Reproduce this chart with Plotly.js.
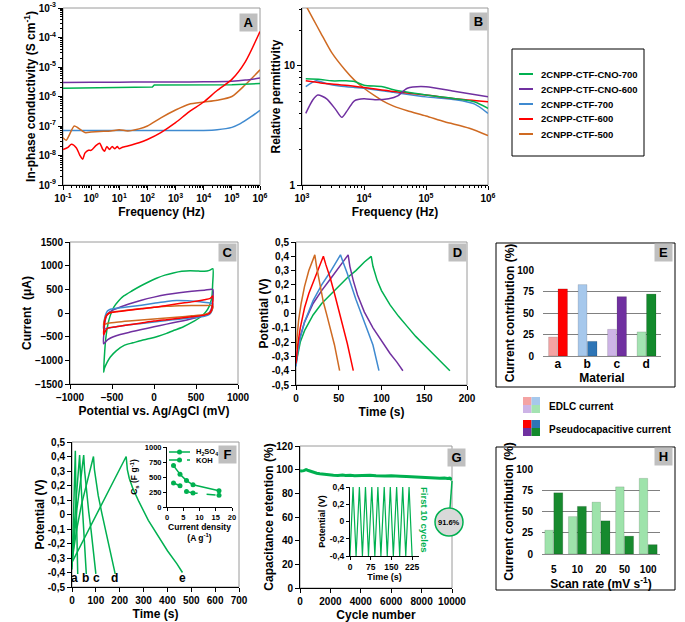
<!DOCTYPE html>
<html><head><meta charset="utf-8">
<script src="https://cdn.plot.ly/plotly-3.0.1.min.js"></script>
<style>html,body{margin:0;padding:0;background:#fff}#chart{width:685px;height:622px}</style>
</head><body><div id="chart"></div>
<script>
// ---------------- DATA ----------------
const seriesNames = ['2CNPP-CTF-CNO-700','2CNPP-CTF-CNO-600','2CNPP-CTF-700','2CNPP-CTF-600','2CNPP-CTF-500'];

// Panel A : in-phase conductivity vs frequency
const aF_green = [0.1, 1, 10, 100, 150, 175, 1000, 1e4, 1e5, 1e6];
const aS_green = [1.9e-6, 1.95e-6, 2.0e-6, 2.05e-6, 2.1e-6, 2.45e-6, 2.45e-6, 2.45e-6, 2.5e-6, 2.75e-6];
const aF_purple = [0.1, 1, 10, 100, 1e3, 1e4, 1e5, 3e5, 1e6];
const aS_purple = [3.0e-6, 3.05e-6, 3.05e-6, 3.1e-6, 3.1e-6, 3.15e-6, 3.3e-6, 3.6e-6, 4.2e-6];
const aF_blue = [0.1, 1, 10, 100, 1e3, 1e4, 3e4, 1e5, 2e5, 5e5, 1e6];
const aS_blue = [7e-8, 7e-8, 7.1e-8, 7e-8, 7e-8, 7.1e-8, 7.5e-8, 9e-8, 1.2e-7, 2.1e-7, 3.4e-7];
const aF_red = [0.1, 0.15, 0.2, 0.3, 0.4, 0.5, 0.6, 0.8, 1, 1.5, 2, 2.6, 3, 3.6, 4.5, 5.5, 7, 8.5, 10, 13, 20, 50, 100, 300, 1e3, 3e3, 1e4, 3e4, 1e5, 3e5, 1e6];
const aS_red = [1.6e-8, 1.9e-8, 2.4e-8, 1.8e-8, 1.0e-8, 7.5e-9, 1.2e-8, 1.5e-8, 1.5e-8, 2.2e-8, 2.6e-8, 1.6e-8, 1.4e-8, 2.0e-8, 1.6e-8, 2.0e-8, 1.7e-8, 2.0e-8, 1.7e-8, 1.9e-8, 2.1e-8, 2.7e-8, 3.5e-8, 6e-8, 1.3e-7, 3e-7, 6.5e-7, 1.6e-6, 3.8e-6, 1.5e-5, 1.6e-4];
const aF_orange = [0.1, 0.13, 0.25, 0.35, 0.6, 1, 2, 5, 10, 20, 50, 100, 300, 1e3, 3e3, 1e4, 3e4, 1e5, 3e5, 1e6];
const aS_orange = [4e-8, 3.3e-8, 1.0e-7, 8.5e-8, 6e-8, 6.2e-8, 6.5e-8, 6.8e-8, 7.5e-8, 6.8e-8, 8e-8, 1.0e-7, 1.9e-7, 3.5e-7, 5.5e-7, 6.5e-7, 7.5e-7, 1.0e-6, 2.5e-6, 8e-6];
const aFreqTicks = [0.1, 1, 10, 100, 1e3, 1e4, 1e5, 1e6];
const aFreqLabels = ['10<sup>-1</sup>','10<sup>0</sup>','10<sup>1</sup>','10<sup>2</sup>','10<sup>3</sup>','10<sup>4</sup>','10<sup>5</sup>','10<sup>6</sup>'];
const aSigTicks = [1e-9, 1e-8, 1e-7, 1e-6, 1e-5, 1e-4, 1e-3];
const aSigLabels = ['10<sup>-9</sup>','10<sup>-8</sup>','10<sup>-7</sup>','10<sup>-6</sup>','10<sup>-5</sup>','10<sup>-4</sup>','10<sup>-3</sup>'];

// Panel B : relative permittivity
const bF_green = [1150, 2000, 3000, 5000, 7000, 1e4, 2e4, 3e4, 1e5, 3e5, 6e5, 1e6];
const bE_green = [7.8, 7.7, 7.5, 7.5, 7.4, 6.9, 6.7, 6.3, 5.7, 5.3, 5.0, 4.4];
const bF_purple = [1150, 1500, 1800, 2500, 3500, 4400, 5500, 7000, 1e4, 1.5e4, 2.5e4, 3.5e4, 5e4, 1e5, 3e5, 1e6];
const bE_purple = [4.0, 5.2, 5.7, 5.3, 4.3, 3.7, 4.3, 5.1, 5.3, 5.2, 5.3, 5.6, 6.5, 6.7, 6.1, 5.5];
const bF_blue = [1150, 1700, 2500, 4000, 7000, 1e4, 3e4, 1e5, 3e5, 6e5, 1e6];
const bE_blue = [6.7, 7.5, 7.1, 6.8, 6.6, 6.5, 6.0, 5.5, 5.2, 4.8, 4.0];
const bF_red = [1150, 2000, 5000, 1e4, 3e4, 1e5, 3e5, 1e6];
const bE_red = [7.5, 7.2, 6.9, 6.6, 6.1, 5.7, 5.3, 5.0];
const bF_orange = [1200, 1500, 2000, 3000, 5000, 7000, 1e4, 1.5e4, 2e4, 3e4, 5e4, 1e5, 2e5, 5e5, 1e6];
const bE_orange = [31, 25, 19, 13, 9.2, 7.6, 6.5, 5.6, 5.1, 4.6, 4.2, 3.8, 3.4, 3.0, 2.6];
const bFreqTicks = [1e3, 1e4, 1e5, 1e6];
const bFreqLabels = ['10<sup>3</sup>','10<sup>4</sup>','10<sup>5</sup>','10<sup>6</sup>'];
const bEpsTicks = [1, 10];
const bEpsLabels = ['1', '10'];

// Panel C : cyclic voltammograms (potential mV, current uA)
const cE_green = [-600,-590,-575,-550,-520,-480,-420,-360,-260,-160,-60,30,130,230,330,430,530,600,660,700, 698,690,670,640,600,550,450,350,250,150,50,-50,-150,-250,-350,-450,-520,-560,-590,-600];
const cI_green = [-1250,-900,-550,-250,-50,120,260,360,470,570,660,735,800,845,880,895,885,880,900,935, 600,350,200,80,-10,-90,-200,-290,-360,-430,-490,-540,-580,-630,-680,-800,-930,-1050,-1170,-1250];
const cE_purple = [-600,-595,-585,-565,-530,-450,-300,-150,0,150,300,450,600,700, 697,685,660,600,450,300,150,0,-150,-300,-450,-550,-600];
const cI_purple = [-650,-400,-200,-60,20,90,190,270,335,390,430,460,480,495, 250,100,10,-50,-120,-180,-235,-290,-350,-410,-480,-560,-650];
const cE_blue = [-600,-595,-580,-555,-520,-450,-300,-150,0,150,270,400,550,650,700, 697,685,660,600,450,300,150,0,-150,-300,-450,-560,-600];
const cI_blue = [-330,-200,-60,40,80,100,130,165,205,245,265,260,240,215,200, 110,30,-30,-70,-100,-130,-160,-190,-220,-250,-290,-320,-330];
const cE_red = [-600,-595,-585,-565,-530,-450,-300,-150,0,150,300,450,600,670,700, 697,685,660,600,450,300,150,0,-150,-300,-450,-560,-600];
const cI_red = [-460,-300,-150,-50,0,25,60,90,120,160,200,235,280,310,360, 180,60,-10,-45,-80,-110,-140,-170,-210,-250,-290,-330,-460];
const cE_orange = [-600,-590,-570,-540,-450,-300,-150,0,150,300,450,600,700, 690,660,600,450,300,150,0,-150,-300,-450,-560,-600];
const cI_orange = [-250,-150,-60,-10,30,65,95,120,140,155,160,160,150, 60,0,-30,-60,-85,-105,-125,-150,-170,-195,-220,-250];

// Panel D : galvanostatic charge/discharge (time s, potential V)
const dT_orange = [0,1,3,6,10,15,22, 24,28,32,36,40,45,51];
const dV_orange = [-0.25,-0.17,-0.05,0.07,0.19,0.30,0.41, 0.33,0.19,0.08,-0.01,-0.10,-0.22,-0.40];
const dT_red = [0,2,5,10,15,20,26,32, 35,40,45,50,55,60,67];
const dV_red = [-0.35,-0.22,-0.10,0.04,0.14,0.22,0.31,0.40, 0.34,0.25,0.14,0.03,-0.09,-0.21,-0.40];
const dT_blue = [0,2,5,10,20,30,40,52, 55,60,70,80,90,97];
const dV_blue = [-0.37,-0.27,-0.17,-0.06,0.09,0.20,0.29,0.41, 0.36,0.28,0.10,-0.06,-0.22,-0.40];
const dT_purple = [0,2,5,10,20,30,40,50,61, 63,67,72,80,90,100,110,118,125];
const dV_purple = [-0.35,-0.25,-0.16,-0.06,0.07,0.16,0.24,0.32,0.41, 0.33,0.23,0.13,0.01,-0.10,-0.19,-0.28,-0.34,-0.40];
const dT_green = [0,2,5,10,15,20,30,40,50,60,70,80,88, 90,95,100,110,120,130,140,150,160,170,180];
const dV_green = [-0.35,-0.28,-0.20,-0.12,-0.06,-0.01,0.07,0.13,0.19,0.25,0.30,0.36,0.40, 0.33,0.23,0.16,0.06,-0.02,-0.09,-0.16,-0.22,-0.28,-0.34,-0.40];
const potTicks = [-0.5,-0.4,-0.3,-0.2,-0.1,0,0.1,0.2,0.3,0.4,0.5];
const potLabels = ['-0,5','-0,4','-0,3','-0,2','-0,1','0','0,1','0,2','0,3','0,4','0,5'];

// Panel E : current contribution per material (%)
const eCats = ['a','b','c','d'];
const eEDLC = [22, 83, 31, 28];
const ePseudo = [78, 17, 69, 72];

// Panel F : GCD at different current densities
const fT_a = [0,4,8,12,14, 16,19,22,24];
const fV_a = [-0.38,-0.10,0.15,0.36,0.44, 0.20,-0.05,-0.26,-0.41];
const fT_b = [0,5,10,20,32, 36,42,48,54,60];
const fV_b = [-0.36,-0.20,-0.07,0.16,0.41, 0.26,0.10,-0.06,-0.22,-0.41];
const fT_c = [0,10,20,35,49, 53,60,70,80,90,100];
const fV_c = [-0.34,-0.12,0.03,0.22,0.41, 0.30,0.17,0.02,-0.11,-0.25,-0.41];
const fT_d = [0,10,20,40,60,90, 94,100,110,125,140,155,170,181];
const fV_d = [-0.32,-0.20,-0.10,0.07,0.20,0.40, 0.31,0.23,0.13,0.01,-0.10,-0.21,-0.32,-0.41];
const fT_e = [0,50,100,150,200,227, 232,240,255,280,320,360,400,440,463];
const fV_e = [-0.33,-0.17,-0.01,0.15,0.31,0.40, 0.31,0.25,0.18,0.09,-0.04,-0.15,-0.25,-0.34,-0.40];
const fCurveLabels = ['a','b','c','d','e'];
// inset: specific capacitance vs current density
const fDensity = [2, 4, 6, 8, 16];
const fCs_H2SO4 = [690, 545, 440, 370, 270];
const fCs_KOH = [400, 355, 260, 235, 195];
const fInsetNames = ['H<sub>2</sub>SO<sub>4</sub>', 'KOH'];

// Panel G : cycling stability
const gCycle = [0,100,250,400,500,700,900,1100,1300,1500,1800,2000,2200,2500,2800,3000,3300,3600,4000,4300,4600,5000,5300,5600,6000,6300,6600,7000,7300,7600,8000,8300,8600,8900,9200,9500,9700,9850,10000];
const gRetention = [99,98.8,99.2,100,99.5,98.5,97.8,97,96.5,96.2,95.5,95,95.3,95,95.4,95,95.3,94.8,95.2,94.9,95.3,94.8,95,94.6,94.8,94.4,94.5,94.2,94,93.8,93.5,93.2,93,92.5,92.8,93,92.5,92.8,91.6];
const gFinalLabel = '91.6%';
// inset: first 10 cycles
const gInT = [0,11,22,34,45,56,67,79,90,101,112,124,135,146,157,169,180,191,202,214,225];
const gInV = [-0.4,0.4,-0.4,0.4,-0.4,0.4,-0.4,0.4,-0.4,0.4,-0.4,0.4,-0.4,0.4,-0.4,0.4,-0.4,0.4,-0.4,0.4,-0.4];
const gInTimeTicks = [0, 75, 150, 225];
const gPotTicks = [-0.4,-0.2,0,0.2,0.4];
const gPotLabels = ['-0,4','-0,2','0','0,2','0,4'];

// Panel H : current contribution vs scan rate (%)
const hCats = ['5','10','20','50','100'];
const hEDLC = [28, 44, 61, 79, 89];
const hPseudo = [72, 56, 39, 21, 11];

// ---------------- STYLE ----------------
const GREEN='#00b050', PURPLE='#7030a0', BLUE='#3f8ad0', RED='#ff0000', ORANGE='#cf6a22';
const LIGHT_E = ['#f4a3a3','#a6c8ec','#cdb4e6','#a4e3b2'];
const DARK_E = ['#ff0000','#2e75b6','#7030a0','#138a2c'];
const LIGHT_G = '#9ee3ab', DARK_G = '#178a2e';
const FONT = 'Liberation Sans, Arial, sans-serif';
const W = 685, H = 622;
const fx = p => p / W, fy = p => 1 - p / H;

function tf(size){ return {family: FONT, size: size, color: '#000', weight: 'bold'}; }
function ttl(text, size, standoff){ return {text: text, font: tf(size), standoff: standoff}; }
function axis(x0, x1, anchor, o){
  return Object.assign({domain: [x0, x1], anchor: anchor, showline: true, linecolor: '#000', linewidth: 1,
    ticks: 'outside', ticklen: 4, tickwidth: 1, tickcolor: '#000', tickfont: tf(10), showgrid: false,
    zeroline: false, automargin: false, fixedrange: true}, o || {});
}
function ln(x, y, color, xa, ya, extra){
  return Object.assign({type: 'scatter', mode: 'lines', x: x, y: y, xaxis: xa, yaxis: ya,
    line: {color: color, width: 1.5}, showlegend: false, hoverinfo: 'skip'}, extra || {});
}
const sp = (c, w) => ({line: {color: c, width: w || 1.5, shape: 'spline', smoothing: 0.7}});

const traces = [
  // A
  ln(aF_blue, aS_blue, BLUE, 'x', 'y', sp(BLUE)),
  ln(aF_orange, aS_orange, ORANGE, 'x', 'y', sp(ORANGE)),
  ln(aF_green, aS_green, GREEN, 'x', 'y'),
  ln(aF_purple, aS_purple, PURPLE, 'x', 'y', sp(PURPLE)),
  ln(aF_red, aS_red, RED, 'x', 'y', sp(RED)),
  // B
  ln(bF_orange, bE_orange, ORANGE, 'x2', 'y2', sp(ORANGE)),
  ln(bF_blue, bE_blue, BLUE, 'x2', 'y2', sp(BLUE)),
  ln(bF_red, bE_red, RED, 'x2', 'y2', sp(RED)),
  ln(bF_green, bE_green, GREEN, 'x2', 'y2', sp(GREEN)),
  ln(bF_purple, bE_purple, PURPLE, 'x2', 'y2', sp(PURPLE)),
  // C
  ln(cE_green, cI_green, GREEN, 'x3', 'y3', sp(GREEN)),
  ln(cE_purple, cI_purple, PURPLE, 'x3', 'y3', sp(PURPLE)),
  ln(cE_blue, cI_blue, BLUE, 'x3', 'y3', sp(BLUE)),
  ln(cE_orange, cI_orange, ORANGE, 'x3', 'y3', sp(ORANGE)),
  ln(cE_red, cI_red, RED, 'x3', 'y3', sp(RED)),
  // D
  ln(dT_green, dV_green, GREEN, 'x4', 'y4'),
  ln(dT_purple, dV_purple, PURPLE, 'x4', 'y4'),
  ln(dT_blue, dV_blue, BLUE, 'x4', 'y4'),
  ln(dT_red, dV_red, RED, 'x4', 'y4'),
  ln(dT_orange, dV_orange, ORANGE, 'x4', 'y4'),
  // E
  {type: 'bar', x: eCats, y: eEDLC, xaxis: 'x5', yaxis: 'y5', width: 0.3, offset: -0.31,
   marker: {color: LIGHT_E, line: {color: 'rgba(0,0,0,0.25)', width: 0.5}}, showlegend: false, hoverinfo: 'skip'},
  {type: 'bar', x: eCats, y: ePseudo, xaxis: 'x5', yaxis: 'y5', width: 0.32, offset: 0.01,
   marker: {color: DARK_E, line: {color: 'rgba(0,0,0,0.3)', width: 0.5}}, showlegend: false, hoverinfo: 'skip'},
  // F
  ln(fT_a, fV_a, GREEN, 'x6', 'y6'),
  ln(fT_b, fV_b, GREEN, 'x6', 'y6'),
  ln(fT_c, fV_c, GREEN, 'x6', 'y6'),
  ln(fT_d, fV_d, GREEN, 'x6', 'y6'),
  ln(fT_e, fV_e, GREEN, 'x6', 'y6'),
  // F inset
  {type: 'scatter', mode: 'lines+markers', x: fDensity, y: fCs_H2SO4, xaxis: 'x7', yaxis: 'y7',
   line: {color: GREEN, width: 1.5}, marker: {color: GREEN, size: 5}, showlegend: false, hoverinfo: 'skip'},
  {type: 'scatter', mode: 'lines+markers', x: fDensity, y: fCs_KOH, xaxis: 'x7', yaxis: 'y7',
   line: {color: GREEN, width: 1.5, dash: 'dash'}, marker: {color: GREEN, size: 5}, showlegend: false, hoverinfo: 'skip'},
  // G
  ln(gCycle, gRetention, GREEN, 'x8', 'y8', {line: {color: GREEN, width: 3}}),
  ln(gInT, gInV, GREEN, 'x9', 'y9', {line: {color: GREEN, width: 1.2}}),
  // H
  {type: 'bar', x: hCats, y: hEDLC, xaxis: 'x10', yaxis: 'y10', width: 0.36, offset: -0.38,
   marker: {color: LIGHT_G, line: {color: 'rgba(0,0,0,0.25)', width: 0.5}}, showlegend: false, hoverinfo: 'skip'},
  {type: 'bar', x: hCats, y: hPseudo, xaxis: 'x10', yaxis: 'y10', width: 0.38, offset: 0.0,
   marker: {color: DARK_G, line: {color: 'rgba(0,0,0,0.3)', width: 0.5}}, showlegend: false, hoverinfo: 'skip'}
];

// ---------------- LAYOUT ----------------
const minorLog = {ticks: 'outside', ticklen: 2, tickcolor: '#000', dtick: 'D1'};
const layout = {
  width: W, height: H, margin: {l: 0, r: 0, t: 0, b: 0}, paper_bgcolor: '#fff', plot_bgcolor: 'rgba(0,0,0,0)',
  font: {family: FONT, color: '#000'}, showlegend: false,
  // A
  xaxis: axis(fx(63), fx(260), 'y', {type: 'log', range: [-1, 6], tickmode: 'array', tickvals: aFreqTicks, ticktext: aFreqLabels, minor: minorLog, title: ttl('Frequency (Hz)', 12, 4)}),
  yaxis: axis(fy(185), fy(8), 'x', {type: 'log', range: [-9, -3], tickmode: 'array', tickvals: aSigTicks, ticktext: aSigLabels, minor: minorLog, title: ttl('In-phase conductivity (S cm<sup>-1</sup>)', 12, 0)}),
  // B
  xaxis2: axis(fx(302), fx(488), 'y2', {type: 'log', range: [3, 6], tickmode: 'array', tickvals: bFreqTicks, ticktext: bFreqLabels, minor: minorLog, title: ttl('Frequency (Hz)', 12, 4)}),
  yaxis2: axis(fy(185), fy(8), 'x2', {type: 'log', range: [0, 1.487], tickmode: 'array', tickvals: bEpsTicks, ticktext: bEpsLabels, minor: minorLog, title: ttl('Relative permittivity', 12, 0)}),
  // C
  xaxis3: axis(fx(70), fx(238), 'y3', {range: [-1000, 1000], dtick: 500, title: ttl('Potential vs. Ag/AgCl (mV)', 12, 4)}),
  yaxis3: axis(fy(384), fy(242), 'x3', {range: [-1500, 1500], dtick: 500, title: ttl('Current  (μA)', 12, 0)}),
  // D
  xaxis4: axis(fx(296), fx(467), 'y4', {range: [0, 200], dtick: 50, title: ttl('Time (s)', 12, 4)}),
  yaxis4: axis(fy(385), fy(242), 'x4', {range: [-0.5, 0.5], tickmode: 'array', tickvals: potTicks, ticktext: potLabels, title: ttl('Potential (V)', 12, 0)}),
  // E
  xaxis5: axis(fx(543), fx(661), 'y5', {type: 'category', linecolor: '#888', ticks: '', tickfont: tf(12), ticklabelstandoff: -3, title: ttl('Material', 12, 0)}),
  yaxis5: axis(fy(356), fy(270), 'x5', {range: [0, 100], dtick: 25, showline: false, ticks: '', showgrid: true, gridcolor: '#808080', gridwidth: 1, ticklabelstandoff: 8, title: ttl('Current contribution (%)', 12, 0)}),
  // F
  xaxis6: axis(fx(72), fx(239), 'y6', {range: [0, 700], dtick: 100, title: ttl('Time (s)', 12, 4)}),
  yaxis6: axis(fy(587), fy(442), 'x6', {range: [-0.5, 0.5], tickmode: 'array', tickvals: potTicks, ticktext: potLabels, title: ttl('Potential (V)', 12, 0)}),
  // F inset
  xaxis7: axis(fx(167), fx(232), 'y7', {range: [0, 20], dtick: 5, ticklen: 3, tickfont: tf(7.5), title: ttl('Current density<br>(A g<sup>-1</sup>)', 8.5, 2)}),
  yaxis7: axis(fy(507), fy(447), 'x7', {range: [0, 1000], dtick: 250, ticklen: 3, tickfont: tf(7.5), title: ttl('C<sub>s</sub> (F g<sup>-1</sup>)', 8.5, 5)}),
  // G
  xaxis8: axis(fx(300), fx(452), 'y8', {range: [0, 10000], dtick: 2000, tickformat: 'd', title: ttl('Cycle number', 12, 4)}),
  yaxis8: axis(fy(588), fy(446), 'x8', {range: [0, 120], dtick: 20, title: ttl('Capacitance retention (%)', 12, 0)}),
  // G inset
  xaxis9: axis(fx(350), fx(419), 'y9', {range: [0, 250], tickmode: 'array', tickvals: gInTimeTicks, ticklen: 3, tickfont: tf(8.5), title: ttl('Time (s)', 9, 2)}),
  yaxis9: axis(fy(556), fy(487), 'x9', {range: [-0.4, 0.4], tickmode: 'array', tickvals: gPotTicks, ticktext: gPotLabels, ticklen: 3, tickfont: tf(8.5), title: ttl('Potential (V)', 9, 2)}),
  // H
  xaxis10: axis(fx(542), fx(660), 'y10', {type: 'category', linecolor: '#888', ticks: '', tickfont: tf(10), ticklabelstandoff: 6, title: ttl('Scan rate (mV s<sup>-1</sup>)', 12, 2)}),
  yaxis10: axis(fy(554), fy(469), 'x10', {range: [0, 100], dtick: 25, showline: false, ticks: '', showgrid: true, gridcolor: '#808080', gridwidth: 1, ticklabelstandoff: 8, title: ttl('Current contribution (%)', 12, 0)}),
  shapes: [],
  annotations: []
};

// frames (grey top/right borders)
[['x','y'],['x2','y2'],['x3','y3'],['x4','y4'],['x6','y6'],['x8','y8']].forEach(p => {
  layout.shapes.push({type: 'rect', xref: p[0] + ' domain', yref: p[1] + ' domain', x0: 0, x1: 1, y0: 0, y1: 1,
    line: {color: '#9a9a9a', width: 1}, layer: 'below'});
});
// boxes around E and H
[[496, 243, 675, 387], [496, 447, 675, 590]].forEach(b => {
  layout.shapes.push({type: 'rect', xref: 'paper', yref: 'paper', x0: fx(b[0]), x1: fx(b[2]), y0: fy(b[3]), y1: fy(b[1]),
    line: {color: '#000', width: 1}});
});
// legend box for A/B
layout.shapes.push({type: 'rect', xref: 'paper', yref: 'paper', x0: fx(512), x1: fx(644), y0: fy(156), y1: fy(49), line: {color: '#000', width: 1}});
const legendColors = [GREEN, PURPLE, BLUE, RED, ORANGE];
seriesNames.forEach((name, i) => {
  const yy = 74 + i * 15;
  layout.shapes.push({type: 'line', xref: 'paper', yref: 'paper', x0: fx(519), x1: fx(533), y0: fy(yy), y1: fy(yy), line: {color: legendColors[i], width: 2}});
  layout.annotations.push({xref: 'paper', yref: 'paper', x: fx(539), y: fy(yy), xanchor: 'left', yanchor: 'middle', text: name, showarrow: false, font: tf(9.5)});
});
// E/H colour key squares
const keyRows = [[397, LIGHT_E, 'EDLC current', 406], [420, DARK_E, 'Pseudocapacitive current', 429]];
keyRows.forEach(r => {
  const top = r[0], cols = r[1];
  [[0,0],[1,0],[0,1],[1,1]].forEach((c, k) => {
    layout.shapes.push({type: 'rect', xref: 'paper', yref: 'paper', x0: fx(523 + c[0]*8.5), x1: fx(531.5 + c[0]*8.5),
      y0: fy(top + 8 + c[1]*8), y1: fy(top + c[1]*8), line: {width: 0}, fillcolor: cols[k]});
  });
  layout.annotations.push({xref: 'paper', yref: 'paper', x: fx(547), y: fy(r[3]), xanchor: 'left', yanchor: 'middle', text: r[2], showarrow: false, font: tf(10)});
});
// panel letters
[['A', 258, 13], ['B', 488, 12], ['C', 237, 243], ['D', 467, 243], ['E', 673, 243], ['F', 237, 445], ['G', 466, 448], ['H', 673, 447]].forEach(p => {
  layout.annotations.push({xref: 'paper', yref: 'paper', x: fx(p[1]), y: fy(p[2]), xanchor: 'right', yanchor: 'top',
    text: p[0], showarrow: false, bgcolor: '#bfbfbf', width: 15, height: 15, font: tf(13)});
});
// F curve labels
[74, 85, 96, 114, 182].forEach((x, i) => {
  layout.annotations.push({xref: 'paper', yref: 'paper', x: fx(x), y: fy(578), xanchor: 'center', yanchor: 'middle', text: fCurveLabels[i], showarrow: false, font: tf(12)});
});
// F inset legend
[[452, 'solid'], [460, 'dash']].forEach((r, i) => {
  layout.shapes.push({type: 'line', xref: 'paper', yref: 'paper', x0: fx(169), x1: fx(190), y0: fy(r[0]), y1: fy(r[0]), line: {color: GREEN, width: 1.5, dash: r[1] === 'dash' ? 'dash' : 'solid'}});
  layout.shapes.push({type: 'circle', xref: 'paper', yref: 'paper', x0: fx(177), x1: fx(182), y0: fy(r[0] + 2.5), y1: fy(r[0] - 2.5), line: {width: 0}, fillcolor: GREEN});
  layout.annotations.push({xref: 'paper', yref: 'paper', x: fx(194), y: fy(r[0]), xanchor: 'left', yanchor: 'middle', text: fInsetNames[i], showarrow: false, font: tf(7.5)});
});
// G annotations
layout.shapes.push({type: 'line', xref: 'paper', yref: 'paper', x0: fx(452), y0: fy(481), x1: fx(450), y1: fy(508), line: {color: GREEN, width: 1.5}});
layout.shapes.push({type: 'circle', xref: 'paper', yref: 'paper', x0: fx(435), x1: fx(463), y0: fy(536), y1: fy(508), line: {color: GREEN, width: 1.5}, fillcolor: '#d9d9d9'});
layout.annotations.push({xref: 'paper', yref: 'paper', x: fx(449), y: fy(522), xanchor: 'center', yanchor: 'middle', text: gFinalLabel, showarrow: false, font: tf(7.5)});
layout.annotations.push({xref: 'paper', yref: 'paper', x: fx(425), y: fy(520), xanchor: 'center', yanchor: 'middle', text: 'First 10 cycles', textangle: 90, showarrow: false, font: {family: FONT, size: 9.5, color: GREEN, weight: 'bold'}});

Plotly.newPlot('chart', traces, layout, {staticPlot: true, displayModeBar: false});
</script></body></html>
